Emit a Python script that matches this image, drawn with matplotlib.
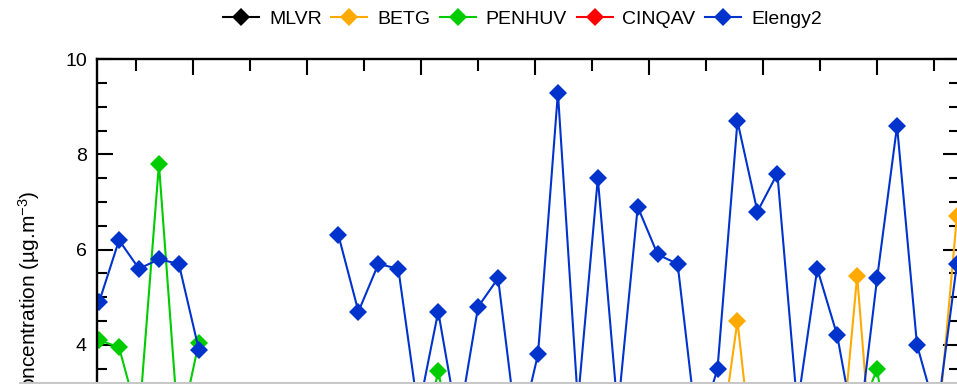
import numpy as np
import matplotlib
matplotlib.use("Agg")
import matplotlib.pyplot as plt
import matplotlib.transforms as mtransforms
from matplotlib.ticker import MultipleLocator, FixedLocator
from matplotlib.lines import Line2D

nan = np.nan

# sample index along the x axis (weekly samples)
sample_index = list(range(44))

series_names = ["MLVR", "BETG", "PENHUV", "CINQAV", "Elengy2"]
series_colors = ["#000000", "#FFAA00", "#00CC00", "#FF0000", "#0033CC"]

mlvr = [nan] * 44
cinqav = [nan] * 44

betg = ([nan] * 31 + [1.5, 4.5, 0.7] + [nan] * 3 + [0.9, 5.45, 0.2]
        + [nan] * 2 + [2.0, 6.7])

penhuv = ([4.1, 3.95, 2.4, 7.8, 2.1, 4.05] + [nan] * 10 + [1.5, 3.45, 1.3]
          + [nan] * 19 + [2.4, 3.5, 0.5] + [nan] * 3)

elengy2 = ([4.9, 6.2, 5.6, 5.8, 5.7, 3.9] + [nan] * 6 +
           [6.3, 4.7, 5.7, 5.6, 2.6, 4.7, 2.3, 4.8, 5.4, 2.0, 3.8, 9.3,
            2.8, 7.5, 2.6, 6.9, 5.9, 5.7, 2.1, 3.5, 8.7, 6.8, 7.6, 2.7,
            5.6, 4.2, 1.9, 5.4, 8.6, 4.0, 2.5, 5.7])

series_values = [mlvr, betg, penhuv, cinqav, elengy2]

y_label = "Concentration (µg.m$^{-3}$)"
y_ticks = [4, 6, 8, 10]
x_major_ticks = [4.71 + 40 / 7 * k for k in range(7)]
x_minor_ticks = [1.86 + 40 / 7 * k for k in range(8)]

plt.rcParams['font.family'] = ['Liberation Sans', 'DejaVu Sans']
plt.rcParams['mathtext.fontset'] = 'custom'
plt.rcParams['mathtext.rm'] = 'Liberation Sans'
plt.rcParams['mathtext.it'] = 'Liberation Sans'

FS = 14
W, H = 957, 384
fig = plt.figure(figsize=(W / 100, H / 100), dpi=100)

# axes geometry in pixels (the figure shows a crop of a taller chart)
left_px, right_px, top_px = 96.5, 958.5, 59.3
px_per_unit = 47.6
ymin, ymax = 0, 10
bottom_px = top_px + (ymax - ymin) * px_per_unit
ax = fig.add_axes([left_px / W, 1 - bottom_px / H,
                   (right_px - left_px) / W, (bottom_px - top_px) / H])

x = np.array(sample_index, dtype=float)
for name, color, vals in zip(series_names, series_colors, series_values):
    ax.plot(x, np.array(vals, dtype=float), color=color, lw=1.5,
            marker='D', markersize=9, markeredgewidth=0, label=name)

ax.set_xlim(-0.13, 43.08)
ax.set_ylim(ymin, ymax)
ax.set_yticks(y_ticks)
ax.yaxis.set_minor_locator(MultipleLocator(0.5))
ax.xaxis.set_major_locator(FixedLocator(x_major_ticks))
ax.xaxis.set_minor_locator(FixedLocator(x_minor_ticks))

for s in ax.spines.values():
    s.set_linewidth(1.7)

ax.tick_params(axis='y', which='both', direction='in', left=True, right=True,
               width=1.5, labelsize=FS, pad=7)
ax.tick_params(axis='y', which='major', length=11.5)
ax.tick_params(axis='y', which='minor', length=7)
ax.tick_params(axis='x', which='both', direction='in', top=True, bottom=True,
               width=1.5, labelbottom=False)
ax.tick_params(axis='x', which='major', length=11.5)
ax.tick_params(axis='x', which='minor', length=8.5)

ax.set_ylabel(y_label, fontsize=15)
ax.yaxis.set_label_coords((42 - left_px) / (right_px - left_px), 0.5)

blend = mtransforms.blended_transform_factory(ax.transAxes, fig.transFigure)
ax.legend(loc='center', bbox_to_anchor=(0.5 - 5 / (right_px - left_px), 1 - 19.5 / H),
          bbox_transform=blend,
          ncol=5, frameon=False, fontsize=FS, handlelength=1.85,
          handletextpad=0.5, columnspacing=0.5, borderaxespad=0, borderpad=0)

# light grey crop edge at the bottom of the picture
fig.add_artist(Line2D([20 / W, 1], [0.8 / H, 0.8 / H], transform=fig.transFigure,
                      color='#C8C8C8', lw=1.5))

fig.savefig("out.png", dpi=100)
